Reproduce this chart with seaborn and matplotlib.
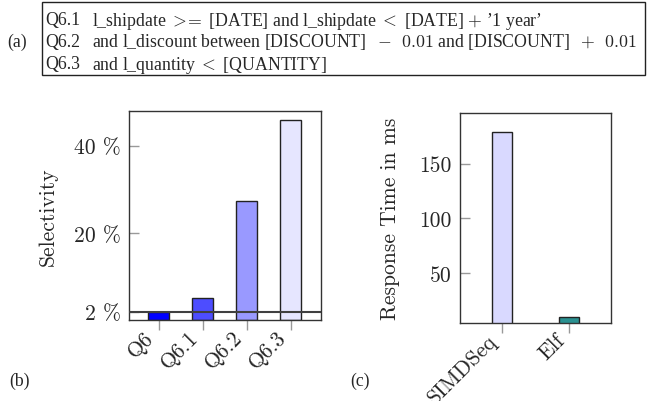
import matplotlib
matplotlib.use("Agg")
import matplotlib.pyplot as plt
import matplotlib.transforms as mtransforms
import seaborn as sns
from matplotlib.patches import Rectangle

# ---- data ----
queries = ["Q6", "Q6.1", "Q6.2", "Q6.3"]
selectivity = [1.8, 5.2, 27.2, 45.9]
sel_colors = ["#0000ff", "#4d4dff", "#9999ff", "#e6e6ff"]
sel_ticks = [2, 20, 40]
sel_ticklabels = ["2 %", "20 %", "40 %"]

systems = ["SIMDSeq", "Elf"]
response_ms = [178.6, 9.9]
resp_colors = ["#d9d9ff", "#2a9191"]
resp_ticks = [50, 100, 150]
resp_ticklabels = ["50", "100", "150"]

pred_ids = ["Q6.1", "Q6.2", "Q6.3"]
pred_texts = [
    "l_shipdate $>\\!\\!=$ [DATE] and l_shipdate $<$ [DATE] $+$ \u20191 year\u2019",
    "and l_discount between [DISCOUNT] $\\;-\\;\\,0.01$ and [DISCOUNT] $\\;+\\;\\,0.01$",
    "and l_quantity $<$ [QUANTITY]",
]

sns.set_style("white")
plt.rcParams["font.family"] = ["Liberation Serif", "DejaVu Serif"]
plt.rcParams["mathtext.fontset"] = "cm"
CM = "cmr10"
TICKFS = 15.5
BOXFS = 12.8

fig = plt.figure(figsize=(6.52, 4.02), dpi=100)
W, H = 652, 402

def fx(px):
    return px / W

def fy(py):
    return 1 - py / H

# ---- (a) box ----
fig.patches.append(Rectangle((fx(42), fy(76)), fx(645) - fx(42), fy(3) - fy(76),
                             transform=fig.transFigure, fill=False,
                             edgecolor="#222222", linewidth=1.0))
fig.text(fx(7), fy(42), "(a)", fontsize=BOXFS, va="center", ha="left")
line_y = [18, 40, 62]
for pid, txt, yy in zip(pred_ids, pred_texts, line_y):
    fig.text(fx(45), fy(yy), pid, fontsize=BOXFS, va="center_baseline", ha="left")
    fig.text(fx(92), fy(yy), txt, fontsize=BOXFS, va="center_baseline", ha="left")

# ---- (b) selectivity ----
axb = fig.add_axes([fx(129.3), fy(321.3), fx(320.7) - fx(129.3), fy(112) - fy(321.3)])
sns.barplot(x=queries, y=selectivity, hue=queries, palette=sel_colors, legend=False,
            saturation=1, width=0.47, edgecolor="#222222", linewidth=1.0, ax=axb)
axb.set_xlim(-0.67, 3.68)
axb.set_ylim(0, 47.9)
axb.axhline(2, color="#404040", linewidth=1.5, zorder=5)
axb.set_yticks(sel_ticks)
axb.set_yticklabels(sel_ticklabels, fontfamily=CM, fontsize=TICKFS)
axb.set_xticks(range(len(queries)))
axb.set_xticklabels(queries, fontfamily=CM, fontsize=TICKFS, rotation=45,
                    ha="right", va="center", rotation_mode="anchor")
axb.set_ylabel("Selectivity", fontfamily=CM, fontsize=TICKFS)
axb.yaxis.set_label_coords(-0.375, 0.5)
axb.set_xlabel("")

# ---- (c) response time ----
axc = fig.add_axes([fx(460), fy(324), fx(611) - fx(460), fy(114.3) - fy(324)])
sns.barplot(x=systems, y=response_ms, hue=systems, palette=resp_colors, legend=False,
            saturation=1, width=0.295, edgecolor="#222222", linewidth=1.0, ax=axc)
axc.set_xlim(-0.616, 1.614)
axc.set_ylim(4.7, 195.9)
axc.set_yticks(resp_ticks)
axc.set_yticklabels(resp_ticklabels, fontfamily=CM, fontsize=TICKFS)
axc.set_xticks(range(len(systems)))
axc.set_xticklabels(systems, fontfamily=CM, fontsize=TICKFS, rotation=45,
                    ha="right", va="center", rotation_mode="anchor")
axc.set_ylabel("Response Time in ms", fontfamily=CM, fontsize=TICKFS)
axc.yaxis.set_label_coords(-0.395, 0.5)
axc.set_xlabel("")

shift = mtransforms.ScaledTranslation(-8 / 100, 0, fig.dpi_scale_trans)
for ax in (axb, axc):
    for s in ax.spines.values():
        s.set_color("#333333")
        s.set_linewidth(1.0)
        s.set_visible(True)
    ax.tick_params(axis="y", direction="in", length=7, width=1, color="#999999",
                   left=True, right=False, pad=6)
    ax.tick_params(axis="x", direction="out", length=7, width=1, color="#999999",
                   bottom=True, top=False, pad=3)
    for lbl in ax.get_xticklabels():
        lbl.set_transform(lbl.get_transform() + shift)

fig.text(fx(9), fy(381), "(b)", fontsize=BOXFS, va="center", ha="left")
fig.text(fx(350), fy(381), "(c)", fontsize=BOXFS, va="center", ha="left")

fig.savefig("out.png", dpi=100)
